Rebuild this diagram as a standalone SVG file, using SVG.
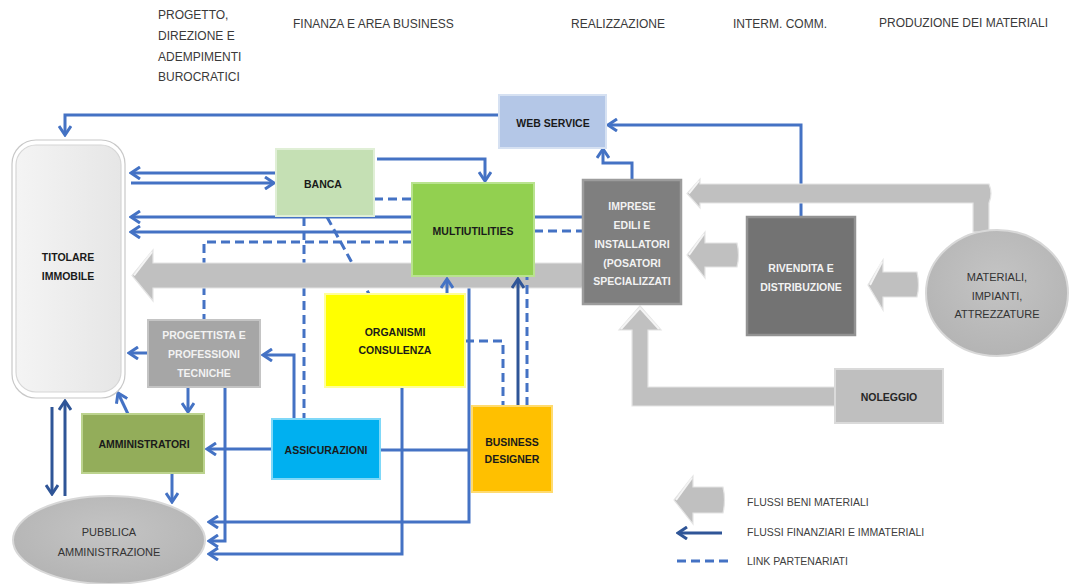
<svg xmlns="http://www.w3.org/2000/svg" width="1070" height="584" viewBox="0 0 1070 584">
<style>
.hdr{font-family:"Liberation Sans",Arial,sans-serif;font-size:12px;fill:#3a3a3a}
.lbl{font-family:"Liberation Sans",Arial,sans-serif;font-size:10.5px;font-weight:bold;fill:#1a1a1a;text-anchor:middle}
.wl{font-family:"Liberation Sans",Arial,sans-serif;font-size:10.5px;font-weight:bold;fill:#f2f2f2;text-anchor:middle}
.gl{font-family:"Liberation Sans",Arial,sans-serif;font-size:11px;fill:#333;text-anchor:middle}
.leg{font-family:"Liberation Sans",Arial,sans-serif;font-size:10.5px;fill:#404040}
.ln{fill:none;stroke:#4472c4;stroke-width:3}
.dk{fill:none;stroke:#2f5597;stroke-width:3}
.ds{fill:none;stroke:#4472c4;stroke-width:3;stroke-dasharray:9 5}
.flow{fill:#c0c0c0;stroke:#e4e4e4;stroke-width:1.2}
.hl{fill:none;stroke:#f4f4f4;stroke-width:2}
</style>
<defs>
<marker id="ah" viewBox="0 0 14 14" refX="12" refY="7" markerWidth="14" markerHeight="14" markerUnits="userSpaceOnUse" orient="auto">
<path d="M3,1 L12,7 L3,13" fill="none" stroke="#4472c4" stroke-width="3"/>
</marker>
<marker id="ahd" viewBox="0 0 14 14" refX="12" refY="7" markerWidth="14" markerHeight="14" markerUnits="userSpaceOnUse" orient="auto">
<path d="M3,1 L12,7 L3,13" fill="none" stroke="#2f5597" stroke-width="3"/>
</marker>
<linearGradient id="gTit" x1="0" y1="0" x2="1" y2="0">
<stop offset="0" stop-color="#f4f4f4"/><stop offset="1" stop-color="#e6e6e6"/>
</linearGradient>
<radialGradient id="gEl" cx="0.5" cy="0.4" r="0.6">
<stop offset="0" stop-color="#c4c4c4"/><stop offset="1" stop-color="#b4b4b4"/>
</radialGradient>
</defs>

<g id="headers">
<text class="hdr" x="158" y="19">PROGETTO,</text>
<text class="hdr" x="158" y="40">DIREZIONE  E</text>
<text class="hdr" x="158" y="61">ADEMPIMENTI</text>
<text class="hdr" x="158" y="81">BUROCRATICI</text>
<text class="hdr" x="293" y="28">FINANZA E AREA BUSINESS</text>
<text class="hdr" x="571" y="28">REALIZZAZIONE</text>
<text class="hdr" x="733" y="28">INTERM. COMM.</text>
<text class="hdr" x="879" y="27">PRODUZIONE DEI MATERIALI</text>
</g>

<g id="connectors">
<!-- blue lines under the material flows -->
<path class="ln" d="M499,115 H65 V135" marker-end="url(#ah)"/>
<path class="ln" d="M801,217 V125 H608" marker-end="url(#ah)"/>
<path class="ln" d="M632,180 V163 H603 V149" marker-end="url(#ah)"/>
<path class="ln" d="M276,173 H131" marker-end="url(#ah)"/>
<path class="ln" d="M131,183 H274" marker-end="url(#ah)"/>
<path class="ln" d="M377,159 H485 V181" marker-end="url(#ah)"/>
<path class="ln" d="M583,217 H131" marker-end="url(#ah)"/>
<path class="ln" d="M412,232 H131" marker-end="url(#ah)"/>
<path class="ln" d="M148,353 H129" marker-end="url(#ah)"/>
<path class="ln" d="M294,419 V355 H263" marker-end="url(#ah)"/>
<path class="ln" d="M188,387 V412" marker-end="url(#ah)"/>
<path class="ln" d="M128,414 L118,393" marker-end="url(#ah)"/>
<path class="ln" d="M272,449 H207" marker-end="url(#ah)"/>
<path class="ln" d="M172,473 V502" marker-end="url(#ah)"/>
<path class="ln" d="M469,276 V522 H209" marker-end="url(#ah)"/>
<path class="ln" d="M380,450 H469"/>
<path class="ln" d="M225,387 V541 H209" marker-end="url(#ah)"/>
<path class="ln" d="M402,387 V554 H209" marker-end="url(#ah)"/>
<path class="dk" d="M52,407 V494" marker-end="url(#ahd)"/>
<path class="dk" d="M65,496 V401" marker-end="url(#ahd)"/>
<path class="ds" d="M374,199 H412"/>
<path class="ds" d="M534,231 H583"/>
<path class="ds" d="M412,242 H204 V320"/>
<path class="ds" d="M304,217 V419"/>
<path class="ds" d="M327,217 L369,294"/>
<path class="ds" d="M465,341 H503 V406"/>

<!-- material flows (grey arrows) -->
<path class="flow" d="M582,263 H153 V250 L132,275.5 L153,301 V288 H582 Q586,275.5 582,263 Z"/>
<path class="hl" d="M152,252 L134,275.5"/>
<path class="flow" d="M989,184 H700 V179 L687,193.5 L700,208 V203 H973 V232 H989 V203 Q993,193.5 989,184 Z"/>
<path class="hl" d="M699,181 L689,193.5"/>
<path class="flow" d="M737,243 H705 V232 L687,255 L705,278 V267 H737 Q740,255 737,243 Z"/>
<path class="hl" d="M704,234 L689,255"/>
<path class="flow" d="M917,272 H883 V260 L868,285 L883,310 V297 H917 Q920,285 917,272 Z"/>
<path class="hl" d="M882,262 L870,285"/>
<path class="flow" d="M835,387 H648 V330 H661 L640,306 L619,330 H632 V406 H835 Z"/>
<path class="hl" d="M621,329 L640,308 L659,329"/>

<!-- blue connectors drawn over the flows -->
<path class="ln" d="M447,294 V279" marker-end="url(#ah)"/>
<path class="dk" d="M518,406 V279" marker-end="url(#ahd)"/>
<path class="ds" d="M527,406 V277"/>
</g>

<g id="titolare">
<rect x="12" y="140" width="113" height="258" rx="24" fill="#ffffff" stroke="#c8c8c8" stroke-width="1.2"/>
<rect x="16" y="145" width="105" height="247" rx="20" fill="url(#gTit)" stroke="#d6d6d6" stroke-width="1.2"/>
<text class="lbl" x="68" y="261" font-size="11">TITOLARE</text>
<text class="lbl" x="68" y="280" font-size="11">IMMOBILE</text>
</g>

<g id="webservice">
<rect x="499" y="95" width="107" height="53" fill="#b4c7e7" stroke="#d6e1f2" stroke-width="2"/>
<text class="lbl" x="553" y="127">WEB SERVICE</text>
</g>

<g id="banca">
<rect x="276" y="149" width="98" height="67" fill="#c5e0b4" stroke="#e0efd6" stroke-width="2"/>
<text class="lbl" x="323" y="188">BANCA</text>
</g>

<g id="multiutilities">
<rect x="412" y="183" width="122" height="93" fill="#92d050" stroke="#b9e38f" stroke-width="2"/>
<text class="lbl" x="473" y="235">MULTIUTILITIES</text>
</g>

<g id="imprese">
<rect x="583" y="180" width="98" height="124" fill="#7f7f7f" stroke="#9c9c9c" stroke-width="2.5"/>
<text class="wl" x="632" y="210">IMPRESE</text>
<text class="wl" x="632" y="229">EDILI E</text>
<text class="wl" x="632" y="248">INSTALLATORI</text>
<text class="wl" x="632" y="267">(POSATORI</text>
<text class="wl" x="632" y="285">SPECIALIZZATI</text>
</g>

<g id="rivendita">
<rect x="747" y="217" width="108" height="118" fill="#737373" stroke="#929292" stroke-width="2.5"/>
<text class="wl" x="801" y="272">RIVENDITA E</text>
<text class="wl" x="801" y="291">DISTRIBUZIONE</text>
</g>

<g id="materiali">
<ellipse cx="997" cy="293" rx="71" ry="63" fill="url(#gEl)" stroke="#d8d8d8" stroke-width="2"/>
<text class="gl" x="997" y="281">MATERIALI,</text>
<text class="gl" x="997" y="300">IMPIANTI,</text>
<text class="gl" x="997" y="318">ATTREZZATURE</text>
</g>

<g id="noleggio">
<rect x="835" y="369" width="108" height="54" fill="#bfbfbf" stroke="#dadada" stroke-width="2"/>
<text class="lbl" x="889" y="401" style="fill:#262626">NOLEGGIO</text>
</g>

<g id="progettista">
<rect x="148" y="320" width="112" height="67" fill="#a6a6a6" stroke="#c4c4c4" stroke-width="2"/>
<text class="wl" x="204" y="339">PROGETTISTA E</text>
<text class="wl" x="204" y="358">PROFESSIONI</text>
<text class="wl" x="204" y="377">TECNICHE</text>
</g>

<g id="organismi">
<rect x="325" y="294" width="140" height="93" fill="#ffff00" stroke="#ffff99" stroke-width="2"/>
<text class="lbl" x="395" y="336">ORGANISMI</text>
<text class="lbl" x="395" y="354">CONSULENZA</text>
</g>

<g id="amministratori">
<rect x="82" y="414" width="122" height="59" fill="#93ad5a" stroke="#bcd38e" stroke-width="2"/>
<text class="lbl" x="144" y="448">AMMINISTRATORI</text>
</g>

<g id="assicurazioni">
<rect x="272" y="419" width="108" height="60" fill="#00b0f0" stroke="#7fd8f8" stroke-width="2"/>
<text class="lbl" x="326" y="454">ASSICURAZIONI</text>
</g>

<g id="businessdesigner">
<rect x="472" y="406" width="80" height="86" fill="#ffc000" stroke="#ffdb70" stroke-width="2"/>
<text class="lbl" x="512" y="446">BUSINESS</text>
<text class="lbl" x="512" y="463">DESIGNER</text>
</g>

<g id="pubblica">
<ellipse cx="109" cy="540" rx="96" ry="44" fill="url(#gEl)" stroke="#d8d8d8" stroke-width="2"/>
<text class="gl" x="109" y="536">PUBBLICA</text>
<text class="gl" x="109" y="556">AMMINISTRAZIONE</text>
</g>

<g id="legend">
<path class="flow" d="M723,487 H693 V476 L674,500 L693,524 V513 H723 Q726,500 723,487 Z"/>
<path class="hl" d="M692,478 L676,500"/>
<text class="leg" x="747" y="506">FLUSSI BENI MATERIALI</text>
<path class="dk" d="M722,533 H678" stroke-width="4" marker-end="url(#ahd)"/>
<text class="leg" x="747" y="536">FLUSSI FINANZIARI E IMMATERIALI</text>
<path class="ds" d="M677,561 H728"/>
<text class="leg" x="747" y="565">LINK PARTENARIATI</text>
</g>
</svg>
